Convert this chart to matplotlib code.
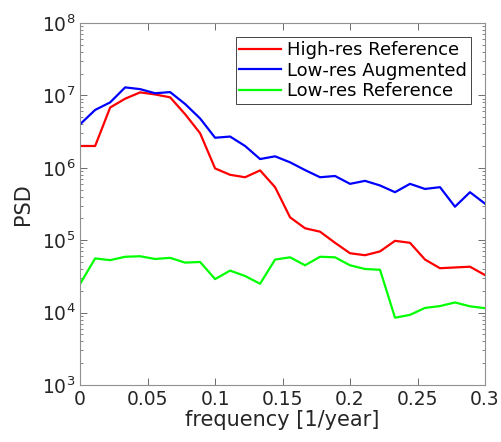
import numpy as np
import matplotlib
matplotlib.use('Agg')
import matplotlib.pyplot as plt
from matplotlib.ticker import LogLocator, NullFormatter

# Frequencies: 28 samples from 0 to 0.3 [1/year]
freq = np.arange(28) / 90.0

high_res_ref = [2.0e6, 2.0e6, 6.8e6, 9.0e6, 1.1e7, 1.03e7, 9.4e6, 5.5e6, 3.0e6, 9.8e5,
                8.0e5, 7.4e5, 9.2e5, 5.4e5, 2.07e5, 1.46e5, 1.31e5, 9.2e4, 6.6e4, 6.2e4,
                7.0e4, 9.8e4, 9.2e4, 5.4e4, 4.1e4, 4.2e4, 4.3e4, 3.3e4]
low_res_aug = [4.0e6, 6.3e6, 8.0e6, 1.29e7, 1.22e7, 1.07e7, 1.11e7, 7.6e6, 4.8e6, 2.6e6,
               2.7e6, 2.0e6, 1.32e6, 1.44e6, 1.19e6, 9.3e5, 7.4e5, 7.7e5, 6.0e5, 6.6e5,
               5.7e5, 4.6e5, 6.0e5, 5.1e5, 5.4e5, 2.9e5, 4.6e5, 3.2e5]
low_res_ref = [2.5e4, 5.6e4, 5.3e4, 5.9e4, 6.0e4, 5.5e4, 5.7e4, 4.9e4, 5.0e4, 2.9e4,
               3.8e4, 3.2e4, 2.5e4, 5.4e4, 5.8e4, 4.5e4, 5.9e4, 5.8e4, 4.5e4, 4.0e4,
               3.9e4, 8.5e3, 9.3e3, 1.16e4, 1.23e4, 1.38e4, 1.22e4, 1.15e4]

xticks = [0, 0.05, 0.1, 0.15, 0.2, 0.25, 0.3]
xtick_labels = ['0', '0.05', '0.1', '0.15', '0.2', '0.25', '0.3']

plt.rcParams['font.family'] = 'DejaVu Sans'

fig = plt.figure(figsize=(5.01, 4.42), dpi=100)
ax = fig.add_axes([0.16, 0.129, 0.808, 0.819])

ax.plot(freq, high_res_ref, color='#ff0000', lw=1.6, label='High-res Reference')
ax.plot(freq, low_res_aug, color='#0000ff', lw=1.6, label='Low-res Augmented')
ax.plot(freq, low_res_ref, color='#00ff00', lw=1.6, label='Low-res Reference')

ax.set_yscale('log')
ax.set_xlim(0, 0.3)
ax.set_ylim(1e3, 1e8)
ax.set_xticks(xticks)
ax.set_xticklabels(xtick_labels)
ax.yaxis.set_major_locator(LogLocator(base=10, numticks=10))
ax.yaxis.set_minor_locator(LogLocator(base=10, subs=np.arange(2, 10), numticks=20))
ax.yaxis.set_minor_formatter(NullFormatter())

ax.tick_params(which='both', direction='in', top=True, right=True,
               colors='#555555', labelcolor='#262626', labelsize=13.5)
ax.tick_params(which='major', length=5, width=0.6)
ax.tick_params(which='minor', length=2.5, width=0.5)
for s in ax.spines.values():
    s.set_color('#909090')
    s.set_linewidth(0.8)

ax.set_xlabel('frequency [1/year]', fontsize=15, labelpad=1, color='#262626')
ax.set_ylabel('PSD', fontsize=15, labelpad=6, color='#262626')

leg = ax.legend(loc='upper right', fontsize=13, handlelength=2.3, handletextpad=0.35,
                borderpad=0.2, labelspacing=0.15, fancybox=False, framealpha=1,
                borderaxespad=0.8)
leg.get_frame().set_edgecolor('#262626')
leg.get_frame().set_linewidth(0.6)

fig.savefig('out.png', dpi=100)
